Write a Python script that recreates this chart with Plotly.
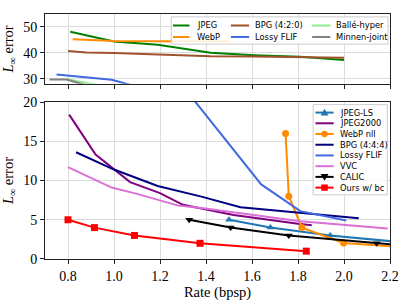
import plotly.graph_objects as go

# ---------------- data ----------------
# top panel (large L-inf errors)
jpeg_x = [0.81, 1.0, 1.19, 1.42, 1.61, 1.81, 2.0]
jpeg_y = [48.1, 44.4, 43.1, 40.0, 39.1, 38.5, 37.2]
webp_x = [0.82, 1.0, 1.2, 1.5]
webp_y = [45.2, 44.6, 44.5, 44.4]
bpg420_x = [0.8, 0.88, 1.0, 1.19, 1.42, 1.6, 1.8, 2.0]
bpg420_y = [40.7, 40.1, 39.9, 39.4, 38.7, 38.6, 38.4, 38.1]
flif_x = [0.75, 0.99, 1.3, 1.64, 1.81, 2.01]
flif_y = [31.6, 29.6, 22.0, 9.5, 6.1, 4.9]
balle_x = [0.795, 1.05]
balle_y = [29.8, 25.5]
minnen_x = [0.72, 0.795, 0.95]
minnen_y = [29.7, 29.7, 25.5]

# bottom panel
jpegls_x = [1.5, 1.68, 1.94, 2.3]
jpegls_y = [5.0, 4.0, 3.0, 2.0]
j2k_x = [0.805, 0.92, 1.07, 1.2, 1.3, 1.52, 1.8, 1.86]
j2k_y = [18.4, 13.3, 9.8, 8.4, 6.9, 5.6, 4.5, 4.3]
webpnll_x = [1.746, 1.76, 1.817, 1.998, 2.5]
webpnll_y = [16.0, 8.0, 4.0, 2.04, 1.0]
bpg444_x = [0.835, 1.0, 1.19, 1.38, 1.55, 1.81, 2.064]
bpg444_y = [13.6, 11.4, 9.3, 7.95, 6.6, 5.9, 5.2]
vvc_x = [0.8, 0.99, 1.1, 1.28, 1.38, 1.67, 1.81, 2.19]
vvc_y = [11.7, 9.1, 8.3, 6.8, 6.5, 5.3, 4.8, 3.9]
calic_x = [1.327, 1.507, 1.76, 2.142, 2.4]
calic_y = [5.0, 4.0, 3.0, 2.0, 1.35]
ours_x = [0.8, 0.915, 1.089, 1.374, 1.836]
ours_y = [5.0, 4.0, 3.0, 2.0, 1.0]

x_ticks = [0.8, 1.0, 1.2, 1.4, 1.6, 1.8, 2.0, 2.2]
top_yticks = [30, 40, 50]
bot_yticks = [0, 5, 10, 15, 20]

# ---------------- figure ----------------
W, H = 407, 305
ML, MR, MT, MB = 43, 17, 7, 42
PW, PH = W - ML - MR, H - MT - MB


def px(x):
    return (x - ML) / PW


def py(y):
    return (H - MB - y) / PH


fig = go.Figure()
LW = 2

top_series = [
    ("JPEG", jpeg_x, jpeg_y, "#008000"),
    ("WebP", webp_x, webp_y, "#ff8c00"),
    ("BPG (4:2:0)", bpg420_x, bpg420_y, "#a0522d"),
    ("Lossy FLIF", flif_x, flif_y, "#4169e1"),
    ("Ballé-hyper", balle_x, balle_y, "#90ee90"),
    ("Minnen-joint", minnen_x, minnen_y, "#808080"),
]
for name, xs, ys, c in top_series:
    fig.add_trace(go.Scatter(x=xs, y=ys, mode="lines", name=name,
                             line=dict(color=c, width=LW),
                             xaxis="x2", yaxis="y2", showlegend=False))

bot_series = [
    ("JPEG-LS", jpegls_x, jpegls_y, "#1f77b4", "triangle-up"),
    ("JPEG2000", j2k_x, j2k_y, "#800080", None),
    ("WebP nll", webpnll_x, webpnll_y, "#ff8c00", "circle"),
    ("BPG (4:4:4)", bpg444_x, bpg444_y, "#000080", None),
    ("Lossy FLIF", flif_x, flif_y, "#4169e1", None),
    ("VVC", vvc_x, vvc_y, "#da70d6", None),
    ("CALIC", calic_x, calic_y, "#000000", "triangle-down"),
    ("Ours w/ bc", ours_x, ours_y, "#ff0000", "square"),
]
for name, xs, ys, c, m in bot_series:
    fig.add_trace(go.Scatter(x=xs, y=ys, mode="lines+markers" if m else "lines",
                             name=name, line=dict(color=c, width=LW),
                             marker=dict(symbol=m or "circle", size=7, color=c),
                             xaxis="x", yaxis="y", showlegend=False))

# ---------------- manual legends ----------------
shapes = []
annots = []
LEG_FONT = dict(family="DejaVu Sans", size=8.3, color="#000000")


def box(x0, y0, x1, y1):
    shapes.append(dict(type="rect", xref="paper", yref="paper",
                       x0=px(x0), x1=px(x1), y0=py(y1), y1=py(y0),
                       fillcolor="rgba(255,255,255,0.85)",
                       line=dict(color="#cccccc", width=1)))


def entry(lx0, lx1, tx, yy, name, color, marker=None):
    shapes.append(dict(type="line", xref="paper", yref="paper",
                       x0=px(lx0), x1=px(lx1), y0=py(yy), y1=py(yy),
                       line=dict(color=color, width=LW)))
    cx = (lx0 + lx1) / 2
    r = 3.3
    if marker == "square":
        shapes.append(dict(type="rect", xref="paper", yref="paper",
                           x0=px(cx - r), x1=px(cx + r), y0=py(yy + r), y1=py(yy - r),
                           fillcolor=color, line=dict(width=0)))
    elif marker == "circle":
        shapes.append(dict(type="circle", xref="paper", yref="paper",
                           x0=px(cx - r), x1=px(cx + r), y0=py(yy + r), y1=py(yy - r),
                           fillcolor=color, line=dict(width=0)))
    elif marker in ("triangle-up", "triangle-down"):
        s = 1 if marker == "triangle-up" else -1
        path = "M {:.5f},{:.5f} L {:.5f},{:.5f} L {:.5f},{:.5f} Z".format(
            px(cx), py(yy - s * 4), px(cx - 4), py(yy + s * 3), px(cx + 4), py(yy + s * 3))
        shapes.append(dict(type="path", xref="paper", yref="paper", path=path,
                           fillcolor=color, line=dict(width=0)))
    annots.append(dict(xref="paper", yref="paper", x=px(tx), y=py(yy),
                       xanchor="left", yanchor="middle", showarrow=False,
                       text=name, font=LEG_FONT))


# top legend: 3 columns x 2 rows (column-major like the original)
box(170, 10, 388, 38.5)
cols = [(171.7, 188.3, 193.5), (230, 248.3, 252.5), (311.7, 330, 334)]
rows = [19, 31]
for i, (name, xs, ys, c) in enumerate(top_series):
    lx0, lx1, tx = cols[i // 2]
    entry(lx0, lx1, tx, rows[i % 2], name, c)

# bottom legend
box(312.7, 101.7, 387.3, 196)
for i, (name, xs, ys, c, m) in enumerate(bot_series):
    entry(315, 333.3, 337.5, 110 + 11.2 * i, name, c, m)

# ---------------- layout ----------------
TICK_FONT = dict(family="Liberation Serif", size=14, color="#000000")
GRID = "#dcdcdc"
common_x = dict(range=[0.7, 2.2], tickvals=x_ticks, tickformat=".1f",
                showgrid=True, gridcolor=GRID, gridwidth=1, zeroline=False,
                showline=True, linecolor="#222222", linewidth=1, mirror=True,
                ticks="outside", ticklen=4, tickcolor="#222222", tickfont=TICK_FONT)
common_y = dict(showgrid=True, gridcolor=GRID, gridwidth=1, zeroline=False,
                showline=True, linecolor="#222222", linewidth=1, mirror=True,
                ticks="outside", ticklen=4, tickcolor="#222222", tickfont=TICK_FONT)

ytitle = dict(text="<i>L</i><sub>∞</sub> error",
              font=dict(family="Liberation Serif", size=14.5, color="#000000"),
              standoff=6)

fig.update_layout(
    width=W, height=H,
    margin=dict(l=ML, r=MR, t=MT, b=MB),
    paper_bgcolor="white", plot_bgcolor="white",
    showlegend=False,
    xaxis=dict(**common_x, anchor="y", domain=[0, 1],
               title=dict(text="Rate (bpsp)",
                          font=dict(family="Liberation Serif", size=14.5, color="#000000"),
                          standoff=4)),
    yaxis=dict(**common_y, range=[0, 20], tickvals=bot_yticks, domain=[0, py(99)],
               anchor="x", title=ytitle),
    xaxis2=dict(**common_x, anchor="y2", domain=[0, 1], showticklabels=False),
    yaxis2=dict(**common_y, range=[28, 55], tickvals=top_yticks, domain=[py(80), 1],
                anchor="x2", title=ytitle),
    shapes=shapes,
    annotations=annots,
)

fig.write_html("out.html", config={"displayModeBar": False},
               post_script="document.body.style.margin='0';document.body.style.overflow='hidden';")
